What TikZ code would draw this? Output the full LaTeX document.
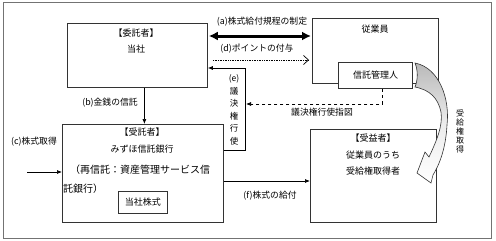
\documentclass[tikz,border=0pt]{standalone}
\usepackage{fontspec}
\setmainfont{Noto Sans CJK JP}
\usetikzlibrary{arrows.meta}
\tikzset{
  box/.style={draw=black!80, line width=0.8pt, anchor=north west, inner sep=0pt},
  lbl/.style={inner sep=0pt, font=\fontsize{8.8}{10}\selectfont},
  txt/.style={inner sep=0pt, font=\fontsize{9}{10}\selectfont},
  arr/.style={line width=0.7pt, -{Latex[length=5pt,width=4pt]}},
}
\begin{document}
\begin{tikzpicture}[x=1pt,y=-1pt]
\useasboundingbox (0,0) rectangle (496,241);
\draw[black!55, line width=0.8pt] (3,2) rectangle (491,238);

% boxes
\node[box, minimum width=140pt, minimum height=64pt] (itaku) at (67,23) {};
\node[box, minimum width=126pt, minimum height=65pt] (jugyo) at (312,18) {};
\node[box, minimum width=74pt, minimum height=26pt, fill=white, line width=1.1pt] (kanri) at (338,62) {};
\node[box, minimum width=161pt, minimum height=98pt] (jutaku) at (62,124) {};
\node[box, minimum width=49pt, minimum height=22pt] (kabu) at (118,191) {};
\node[box, minimum width=126pt, minimum height=93pt] (jueki) at (310,129) {};

% box texts
\node[txt] (t1) at (136,33) {【委託者】};
\node[txt] (t2) at (136,49) {当社};
\node[txt] (t3) at (375,29) {従業員};
\node[txt] (t4) at (kanri.center) {信託管理人};
\node[txt] (t5) at (142,132) {【受託者】};
\node[txt] (t6) at (142,149) {みずほ信託銀行};
\node[txt, anchor=west, font=\fontsize{10}{10}\selectfont] (t7) at (70,170) {（再信託：資産管理サービス信};
\node[txt, anchor=west, font=\fontsize{10}{10}\selectfont] (t8) at (63,189) {託銀行）};
\node[txt] (t9) at (kabu.center) {当社株式};
\node[txt] (t10) at (373,138) {【受益者】};
\node[txt] (t11) at (373,155) {従業員のうち};
\node[txt] (t12) at (373,171) {受給権取得者};

% (a)
\draw[line width=3pt, {Latex[length=9pt,width=9pt]}-{Latex[length=9pt,width=9pt]}]
  ([shift={(1,13)}]itaku.north east) -- ([shift={(-1,18)}]jugyo.north west);
\node[lbl] (la) at (262,22) {(a)株式給付規程の制定};
% (d)
\draw[densely dotted, line width=0.7pt, -{Straight Barb[length=5pt,width=9pt]}]
  ([shift={(5,37)}]itaku.north east) -- ([shift={(-3,42)}]jugyo.north west);
\node[lbl] (ld) at (257,49) {(d)ポイントの付与};
% (e)
\draw[arr] ([shift={(0,26)}]jutaku.north east) -- ++(22,0) |- ([shift={(0,45)}]itaku.north east);
\node[lbl, align=center, font=\fontsize{8.5}{12.5}\selectfont] (le) at (234,110) {(e)\\議\\決\\権\\行\\使};
\coordinate (ehit) at (246,104);
\draw[dashed, line width=0.7pt, -{Latex[length=5pt,width=4pt]}] ([xshift=7]kanri.south) |- (ehit);
\node[lbl] (lsz) at (322,112) {議決権行使指図};
% (b)
\draw[arr] ([xshift=7]itaku.south) -- ([xshift=7]itaku.south |- jutaku.north);
\node[lbl] (lb) at (110,103) {(b)金銭の信託};
% (c)
\coordinate (cstart) at (27,172);
\draw[arr] (cstart) -- (jutaku.west |- cstart);
\node[lbl] (lc) at (34,142) {(c)株式取得};
% (f)
\draw[arr] ([shift={(0,57)}]jutaku.north east) -- (jueki.west |- 0,181);
\node[lbl] (lf) at (270,196) {(f)株式の給付};

% curved arrow
\path[draw=black!80, line width=0.6pt, top color=gray!55, bottom color=white, middle color=gray!15]
  (415,63) .. controls (440,68) and (450,100) .. (447,125)
  .. controls (446,145) and (441,162) .. (433,175)
  -- (431,183) -- (417,173) -- (425,152) -- (429,157)
  .. controls (437,140) and (443,125) .. (441,112)
  .. controls (438,98) and (430,90) .. (415,87)
  .. controls (418,80) and (418,70) .. cycle;
\node[lbl, align=center, font=\fontsize{8}{9}\selectfont] (lju) at (460,131) {受\\給\\権\\取\\得};
\end{tikzpicture}
\end{document}
